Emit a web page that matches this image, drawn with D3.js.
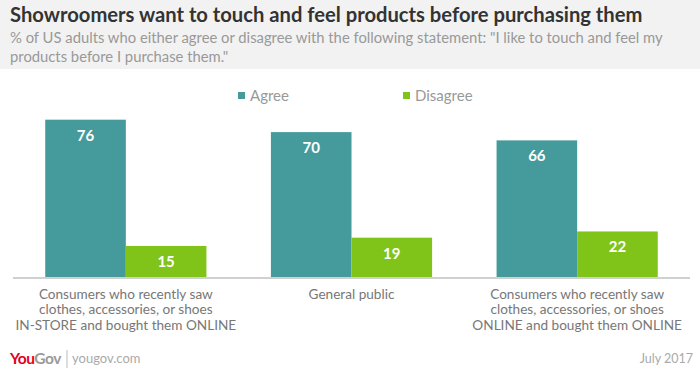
<!DOCTYPE html>
<html>
<head>
<meta charset="utf-8">
<script src="https://cdn.jsdelivr.net/npm/d3@7"></script>
<style>
  body { margin: 0; background: #fff; }
  svg { display: block; font-family: Lato, "Open Sans", sans-serif; }
</style>
</head>
<body>
<div id="chart"></div>
<script>

// Data
const categories = [
    ["Consumers who recently saw", "clothes, accessories, or shoes", "IN-STORE and bought them ONLINE"],
    ["General public"],
    ["Consumers who recently saw", "clothes, accessories, or shoes", "ONLINE and bought them ONLINE"]
];
const seriesNames = ["Agree", "Disagree"];
const agree = [76, 70, 66];
const disagree = [15, 19, 22];
const colors = ["#459b9c", "#80c41a"];

let width = 700, height = 375;

let svg = d3.select("#chart")
    .append("svg")
    .attr("width", width)
    .attr("height", height);

// Header band
svg.append("rect")
    .attr("width", width)
    .attr("height", 69)
    .attr("fill", "#f2f2f2");

svg.append("text")
    .attr("x", 10)
    .attr("y", 22)
    .attr("fill", "#333")
    .attr("font-size", 20.2)
    .attr("font-weight", "bold")
    .text("Showroomers want to touch and feel products before purchasing them");

let subtitle = [
    "% of US adults who either agree or disagree with the following statement: \"I like to touch and feel my",
    "products before I purchase them.\""
];
svg.selectAll(".sub")
    .data(subtitle)
    .enter()
    .append("text")
    .attr("class", "sub")
    .attr("x", 10)
    .attr("y", (d, i) => 43 + i * 19)
    .attr("fill", "#999")
    .attr("font-size", 14.8)
    .text(d => d);

// Scales
let x0 = d3.scaleBand()
    .domain(d3.range(categories.length))
    .range([13, 690]);

let x1 = d3.scaleBand()
    .domain(seriesNames)
    .range([0, x0.bandwidth()])
    .paddingOuter(0.4);

let y = d3.scaleLinear()
    .domain([0, 100])
    .range([277, 70]);

let color = d3.scaleOrdinal()
    .domain(seriesNames)
    .range(colors);

let rows = categories.map((c, i) => ({
    index: i,
    values: [
        { key: "Agree", value: agree[i] },
        { key: "Disagree", value: disagree[i] }
    ]
}));

let groups = svg.selectAll(".group")
    .data(rows)
    .enter()
    .append("g")
    .attr("class", "group")
    .attr("transform", d => "translate(" + x0(d.index) + ",0)");

groups.selectAll("rect")
    .data(d => d.values)
    .enter()
    .append("rect")
    .attr("x", d => x1(d.key))
    .attr("y", d => y(d.value))
    .attr("width", x1.bandwidth())
    .attr("height", d => y(0) - y(d.value))
    .attr("fill", d => color(d.key));

groups.selectAll(".val")
    .data(d => d.values)
    .enter()
    .append("text")
    .attr("class", "val")
    .attr("x", d => x1(d.key) + x1.bandwidth() / 2)
    .attr("y", d => y(d.value) + 21)
    .attr("text-anchor", "middle")
    .attr("fill", "#fff")
    .attr("font-size", 15)
    .attr("font-weight", "bold")
    .text(d => d.value);

// Baseline
svg.append("line")
    .attr("x1", 13)
    .attr("x2", 690)
    .attr("y1", y(0) + 1)
    .attr("y2", y(0) + 1)
    .attr("stroke", "#d0d0d0")
    .attr("stroke-width", 2);

// Category labels
groups.selectAll(".cat")
    .data(d => categories[d.index])
    .enter()
    .append("text")
    .attr("class", "cat")
    .attr("x", x0.bandwidth() / 2)
    .attr("y", (d, i) => 298.5 + i * 15.5)
    .attr("text-anchor", "middle")
    .attr("fill", "#777")
    .attr("font-size", 13.6)
    .text(d => d);

// Legend
let legendX = [238, 403];
let legend = svg.selectAll(".legend")
    .data(seriesNames)
    .enter()
    .append("g")
    .attr("class", "legend")
    .attr("transform", (d, i) => "translate(" + legendX[i] + ",92)");

legend.append("rect")
    .attr("width", 7)
    .attr("height", 7)
    .attr("fill", d => color(d));

legend.append("text")
    .attr("x", 12)
    .attr("y", 9)
    .attr("fill", "#999")
    .attr("font-size", 15)
    .text(d => d);

// Footer
let logo = svg.append("text")
    .attr("x", 10)
    .attr("y", 364)
    .attr("font-size", 15.5)
    .attr("font-weight", "bold")
    .attr("letter-spacing", -0.5);
logo.append("tspan").attr("fill", "#e3001b").text("You");
logo.append("tspan").attr("fill", "#999").text("Gov");

svg.append("line")
    .attr("x1", 67).attr("x2", 67)
    .attr("y1", 350).attr("y2", 368)
    .attr("stroke", "#bbb");

svg.append("text")
    .attr("x", 72)
    .attr("y", 363)
    .attr("fill", "#aaa")
    .attr("font-size", 13)
    .text("yougov.com");

svg.append("text")
    .attr("x", 693)
    .attr("y", 363)
    .attr("text-anchor", "end")
    .attr("fill", "#aaa")
    .attr("font-size", 12.5)
    .text("July 2017");

</script>
</body>
</html>
